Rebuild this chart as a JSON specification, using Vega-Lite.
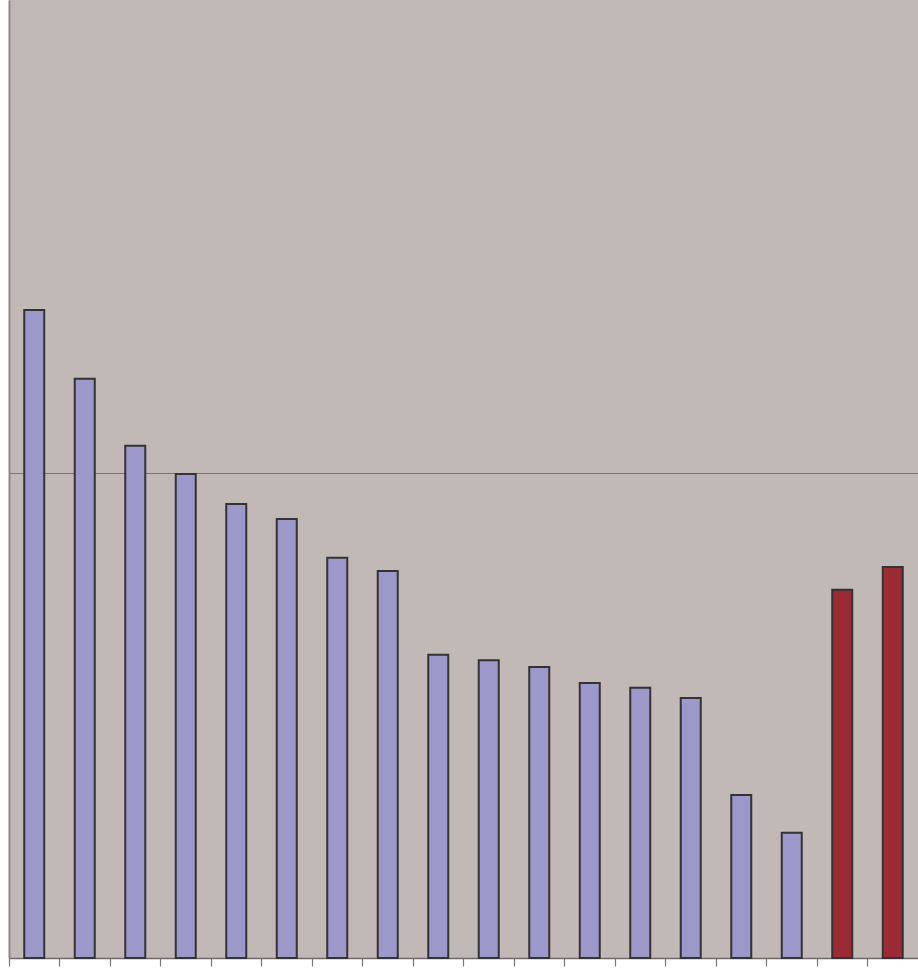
{
  "$schema": "https://vega.github.io/schema/vega-lite/v6.json",
  "width": 909,
  "height": 958,
  "autosize": "none",
  "padding": {"left": 9, "top": 0, "right": 0, "bottom": 19},
  "background": "white",
  "view": {"fill": "#c1b9b6", "stroke": null},
  "data": {"values": [
    {"i": 1, "v": 1.336, "g": "a"},
    {"i": 2, "v": 1.194, "g": "a"},
    {"i": 3, "v": 1.056, "g": "a"},
    {"i": 4, "v": 0.998, "g": "a"},
    {"i": 5, "v": 0.936, "g": "a"},
    {"i": 6, "v": 0.905, "g": "a"},
    {"i": 7, "v": 0.825, "g": "a"},
    {"i": 8, "v": 0.798, "g": "a"},
    {"i": 9, "v": 0.625, "g": "a"},
    {"i": 10, "v": 0.614, "g": "a"},
    {"i": 11, "v": 0.600, "g": "a"},
    {"i": 12, "v": 0.567, "g": "a"},
    {"i": 13, "v": 0.557, "g": "a"},
    {"i": 14, "v": 0.536, "g": "a"},
    {"i": 15, "v": 0.336, "g": "a"},
    {"i": 16, "v": 0.258, "g": "a"},
    {"i": 17, "v": 0.759, "g": "b"},
    {"i": 18, "v": 0.806, "g": "b"}
  ]},
  "mark": {"type": "bar", "size": 20, "stroke": "#333333", "strokeWidth": 2},
  "encoding": {
    "x": {
      "field": "i", "type": "ordinal",
      "scale": {"paddingInner": 0, "paddingOuter": 0},
      "axis": {"title": null, "labels": false, "domainColor": "#6e6868", "domainWidth": 1.5, "tickColor": "#7a7474", "tickSize": 8, "tickWidth": 1.2, "bandPosition": 0, "grid": false}
    },
    "y": {
      "field": "v", "type": "quantitative",
      "scale": {"domain": [0, 1.975], "nice": false},
      "axis": {"title": null, "labels": false, "ticks": false, "values": [1], "grid": true, "gridColor": "#7a7474", "gridWidth": 1.2, "gridOpacity": 1, "domainColor": "#8f8685", "domainWidth": 2}
    },
    "color": {
      "field": "g", "type": "nominal",
      "scale": {"domain": ["a", "b"], "range": ["#9c98c9", "#9a2b35"]},
      "legend": null
    }
  }
}
